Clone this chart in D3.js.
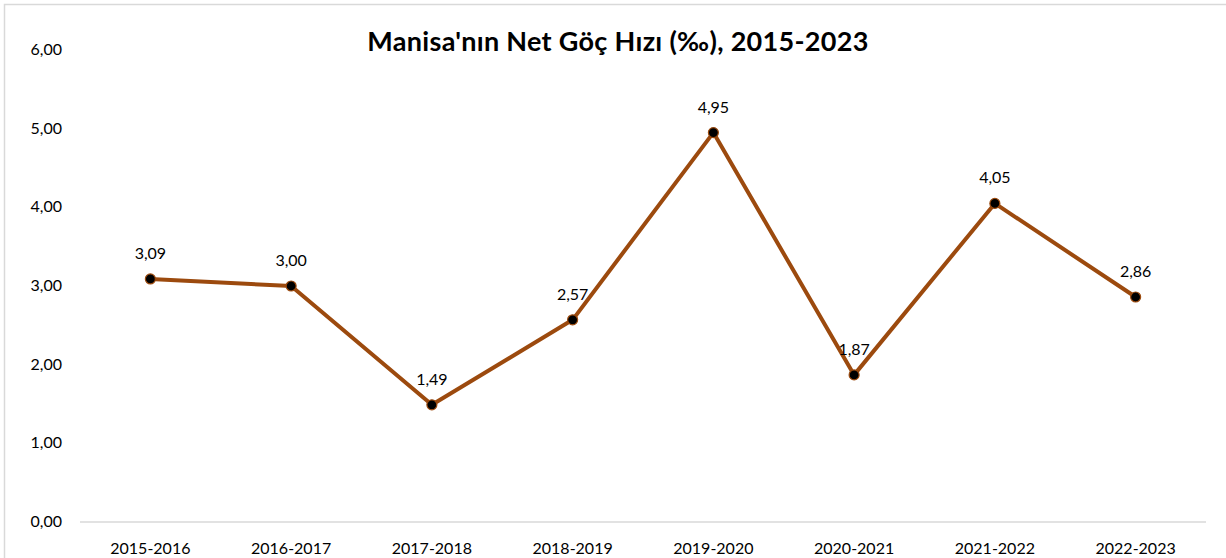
<!DOCTYPE html>
<html>
<head>
<meta charset="utf-8">
<script src="https://cdn.jsdelivr.net/npm/d3@7"></script>
<style>
  body { margin: 0; background: #fff; }
  text { font-family: Lato, "Open Sans", sans-serif; fill: #000; }
</style>
</head>
<body>
<div class="chartWrap"></div>
<script>
// chart data
const periods = ["2015-2016", "2016-2017", "2017-2018", "2018-2019", "2019-2020", "2020-2021", "2021-2022", "2022-2023"];
const rates = [3.09, 3.00, 1.49, 2.57, 4.95, 1.87, 4.05, 2.86];
const yTicks = [0, 1, 2, 3, 4, 5, 6];
const title = "Manisa'nın Net Göç Hızı (‰), 2015-2023";

const w = 1226, h = 558,
  margin = {top: 50, right: 20, bottom: 36, left: 80},
  lineColor = "#9C4A0E";

const fmt = d => d.toFixed(2).replace(".", ",");

const svg = d3.select(".chartWrap").append("svg").attr("width", w).attr("height", h);

// outer frame (the reference is cropped so only left/top edges show)
svg.append("rect").attr("x", 4.5).attr("y", 4.5).attr("width", w + 10).attr("height", h + 10)
  .attr("fill", "none").attr("stroke", "#d9d9d9").attr("stroke-width", 1.5);

const x = d3.scaleBand().domain(periods).range([margin.left, w - margin.right]);
const y = d3.scaleLinear().domain([0, 6]).range([h - margin.bottom, margin.top]);

// title
svg.append("text").text(title)
  .attr("x", 618).attr("y", 51).attr("text-anchor", "middle")
  .attr("font-size", 27).attr("font-weight", "bold").attr("letter-spacing", 0.3);

// y labels (no gridlines)
svg.selectAll(".ylab").data(yTicks).enter().append("text")
  .attr("class", "ylab")
  .attr("x", 62).attr("y", d => y(d) + 5)
  .attr("text-anchor", "end").attr("font-size", 16)
  .text(d => fmt(d));

// x axis line
svg.append("line")
  .attr("x1", x.range()[0]).attr("x2", x.range()[1])
  .attr("y1", y(0)).attr("y2", y(0))
  .attr("stroke", "#d9d9d9").attr("stroke-width", 1.5);

// x labels
svg.selectAll(".xlab").data(periods).enter().append("text")
  .attr("class", "xlab")
  .attr("x", d => x(d) + x.bandwidth() / 2).attr("y", y(0) + 32)
  .attr("text-anchor", "middle").attr("font-size", 16)
  .text(d => d);

const pts = periods.map((p, i) => ({p: p, v: rates[i]}));
const line = d3.line().x(d => x(d.p) + x.bandwidth() / 2).y(d => y(d.v));

svg.append("path").datum(pts)
  .attr("d", line).attr("fill", "none")
  .attr("stroke", lineColor).attr("stroke-width", 4).attr("stroke-linejoin", "round");

svg.selectAll(".pt").data(pts).enter().append("circle")
  .attr("class", "pt")
  .attr("cx", d => x(d.p) + x.bandwidth() / 2).attr("cy", d => y(d.v))
  .attr("r", 5).attr("fill", "#000").attr("stroke", lineColor).attr("stroke-width", 1.2);

// data labels
svg.selectAll(".dlab").data(pts).enter().append("text")
  .attr("class", "dlab")
  .attr("x", d => x(d.p) + x.bandwidth() / 2).attr("y", d => y(d.v) - 20)
  .attr("text-anchor", "middle").attr("font-size", 16)
  .text(d => fmt(d.v));
</script>
</body>
</html>
